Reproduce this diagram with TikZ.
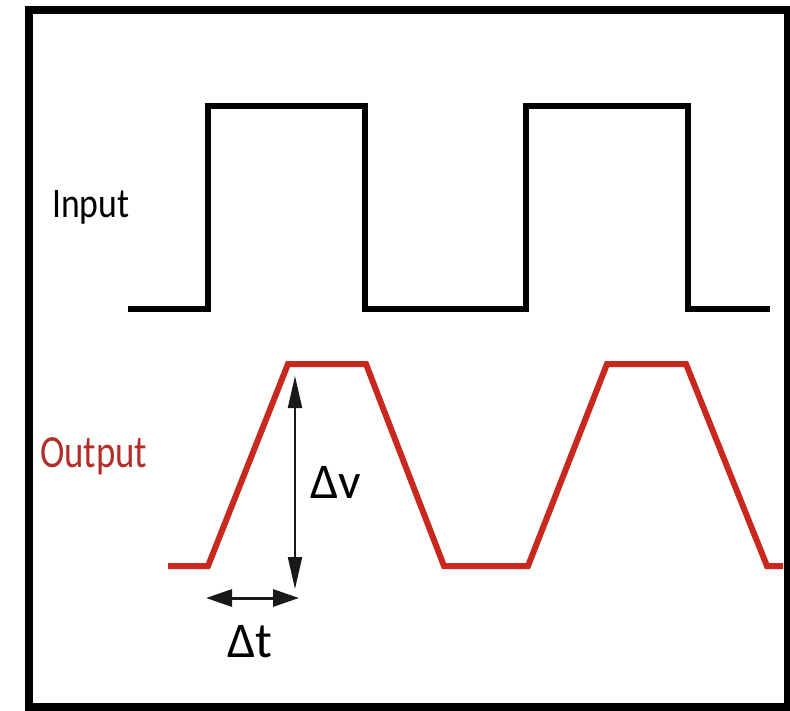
\documentclass[tikz,border=0pt]{standalone}
\usepackage{fontspec}
\setmainfont{Carlito}
\usetikzlibrary{arrows.meta}
\definecolor{wavered}{RGB}{200,40,30}
\definecolor{labelred}{RGB}{180,45,40}
\definecolor{arrowgray}{RGB}{25,25,25}
\tikzset{
  x=1pt, y=-1pt,
  frame/.style={line width=8pt, draw=black},
  inwave/.style={line width=6pt, draw=black, line join=miter},
  outwave/.style={line width=6pt, draw=wavered, line join=miter},
  vdim/.style={draw=arrowgray, line width=2pt, {Triangle[length=32pt,width=14pt]}-{Triangle[length=32pt,width=14pt]}},
  hdim/.style={draw=arrowgray, line width=3pt, {Triangle[length=26pt,width=17pt]}-{Triangle[length=26pt,width=17pt]}},
  lbl/.style={inner sep=0pt, anchor=base west},
}
\begin{document}
\begin{tikzpicture}
\useasboundingbox (0,0) rectangle (790,710);
\fill[white] (0,0) rectangle (790,710);
\draw[frame] (29,9.5) rectangle (787.5,707);
% input square wave
\coordinate (i0) at (128,309);
\coordinate (i1) at (208,309);
\coordinate (i2) at (208,106);
\coordinate (i3) at (365,106);
\coordinate (i4) at (365,309);
\coordinate (i5) at (526,309);
\coordinate (i6) at (526,106);
\coordinate (i7) at (688,106);
\coordinate (i8) at (688,309);
\coordinate (i9) at (770,309);
\draw[inwave] (i0) -- (i1) -- (i2) -- (i3) -- (i4) -- (i5) -- (i6) -- (i7) -- (i8) -- (i9);
% output trapezoid wave
\coordinate (o0) at (168,566);
\coordinate (o1) at (208,566);
\coordinate (o2) at (288,364);
\coordinate (o3) at (366,364);
\coordinate (o4) at (444,566);
\coordinate (o5) at (528,566);
\coordinate (o6) at (607,364);
\coordinate (o7) at (686,364);
\coordinate (o8) at (767,566);
\coordinate (o9) at (783,566);
\draw[outwave] (o0) -- (o1) -- (o2) -- (o3) -- (o4) -- (o5) -- (o6) -- (o7) -- (o8) -- (o9);
% dimension arrows
\coordinate (vtop) at (295,376);
\coordinate (vbot) at (295,589);
\coordinate (tl) at (206,598);
\coordinate (tr) at (299,598);
\draw[vdim] (vtop) -- (vbot);
\draw[hdim] (tl) -- (tr);
% labels
\node[lbl, font=\fontsize{42}{42}\selectfont, xscale=0.85] (input) at (52,217) {Input};
\node[lbl, font=\fontsize{46}{46}\selectfont, xscale=0.8, text=labelred] (output) at (40,467) {Output};
\node[lbl, font=\fontsize{50}{50}\selectfont] (dv) at (310,498) {Δv};
\node[lbl, font=\fontsize{50}{50}\selectfont] (dt) at (227,657) {Δt};
\end{tikzpicture}
\end{document}
